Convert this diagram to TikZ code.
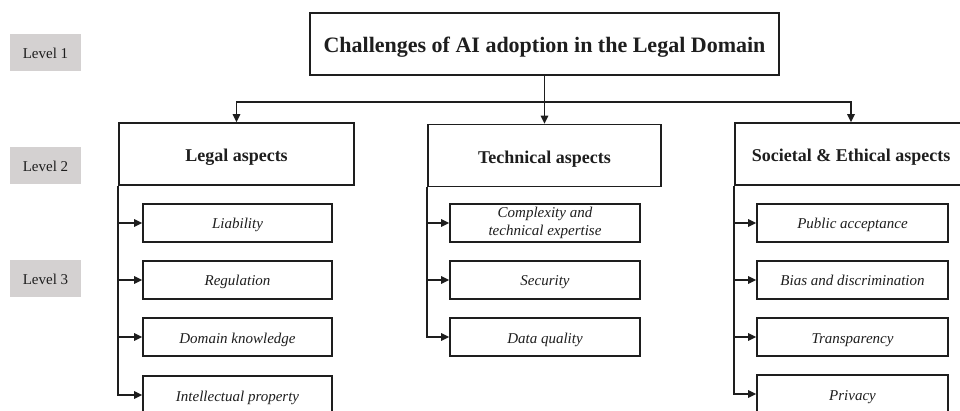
\documentclass[tikz,border=0pt]{standalone}
\usepackage{fontspec}
\setmainfont{Liberation Serif}
\usetikzlibrary{arrows.meta}

\definecolor{ink}{HTML}{1E1E1E}
\definecolor{levelgray}{HTML}{D4D1D1}

\tikzset{
  box/.style={draw=ink, line width=1.6pt, fill=white, inner sep=0pt, align=center, text=ink},
  toptitle/.style={box, minimum width=469pt, minimum height=62pt, text height=19pt, text depth=1pt,
    font=\fontsize{22}{26}\selectfont\bfseries},
  aspect/.style={box, minimum height=62pt, text height=17pt, text depth=1pt,
    font=\fontsize{18}{22}\selectfont\bfseries},
  issue/.style={box, minimum height=38pt, text height=14pt, text depth=2pt,
    font=\fontsize{15}{18}\selectfont\itshape},
  twolines/.style={text height=, text depth=},
  levelbox/.style={fill=levelgray, minimum width=71pt, minimum height=37pt, inner sep=0pt,
    text height=13pt, text depth=1pt, font=\fontsize{15}{18}\selectfont, text=ink},
  link/.style={draw=ink, line width=1.6pt, -{Triangle[length=8pt,width=7.5pt]}},
}

\begin{document}
\begin{tikzpicture}[x=1pt, y=-1pt]
  \useasboundingbox (0,0) rectangle (960,411);
  \clip (0,0) rectangle (960,411);

  % level markers on the left
  \node[levelbox] (lv1) at (45.5,53) {Level 1};
  \node[levelbox] (lv2) at (45.5,165.5) {Level 2};
  \node[levelbox] (lv3) at (45.5,278.5) {Level 3};

  % level 1
  \node[toptitle] (title) at (544.5,44) {Challenges of AI adoption in the Legal Domain};

  % level 2
  \node[aspect, minimum width=235pt] (legal) at (236.5,154) {Legal aspects};
  \node[aspect, minimum width=233pt] (tech) at (544.5,155.5) {Technical aspects};
  \node[aspect, minimum width=232pt] (soc) at (851,154) {Societal \& Ethical aspects};

  % level 3: legal
  \node[issue, minimum width=189pt] (liab) at (237.5,223) {Liability};
  \node[issue, minimum width=189pt] (regu) at (237.5,280) {Regulation};
  \node[issue, minimum width=189pt] (domk) at (237.5,337) {Domain knowledge};
  \node[issue, minimum width=189pt] (ipro) at (237.5,395) {Intellectual property};

  % level 3: technical
  \node[issue, twolines, minimum width=190pt] (cplx) at (545,223) {Complexity and\\technical expertise};
  \node[issue, minimum width=190pt] (secu) at (545,280) {Security};
  \node[issue, minimum width=190pt] (dqua) at (545,337) {Data quality};

  % level 3: societal and ethical
  \node[issue, minimum width=191pt] (publ) at (852.5,223) {Public acceptance};
  \node[issue, minimum width=191pt] (bias) at (852.5,280) {Bias and discrimination};
  \node[issue, minimum width=191pt] (tran) at (852.5,337) {Transparency};
  \node[issue, minimum width=191pt] (priv) at (852.5,394) {Privacy};

  % branching from the title
  \coordinate (bus) at (544.5,102);
  \draw[link] (title.south) -- (tech.north);
  \draw[link] (bus) -| (legal.north);
  \draw[link] (bus) -| (soc.north);

  % legal branch
  \foreach \c in {liab,regu,domk,ipro}
    \draw[link] (legal.south west) |- (\c.west);
  % technical branch
  \foreach \c in {cplx,secu,dqua}
    \draw[link] (tech.south west) |- (\c.west);
  % societal and ethical branch
  \foreach \c in {publ,bias,tran,priv}
    \draw[link] (soc.south west) |- (\c.west);
\end{tikzpicture}
\end{document}
